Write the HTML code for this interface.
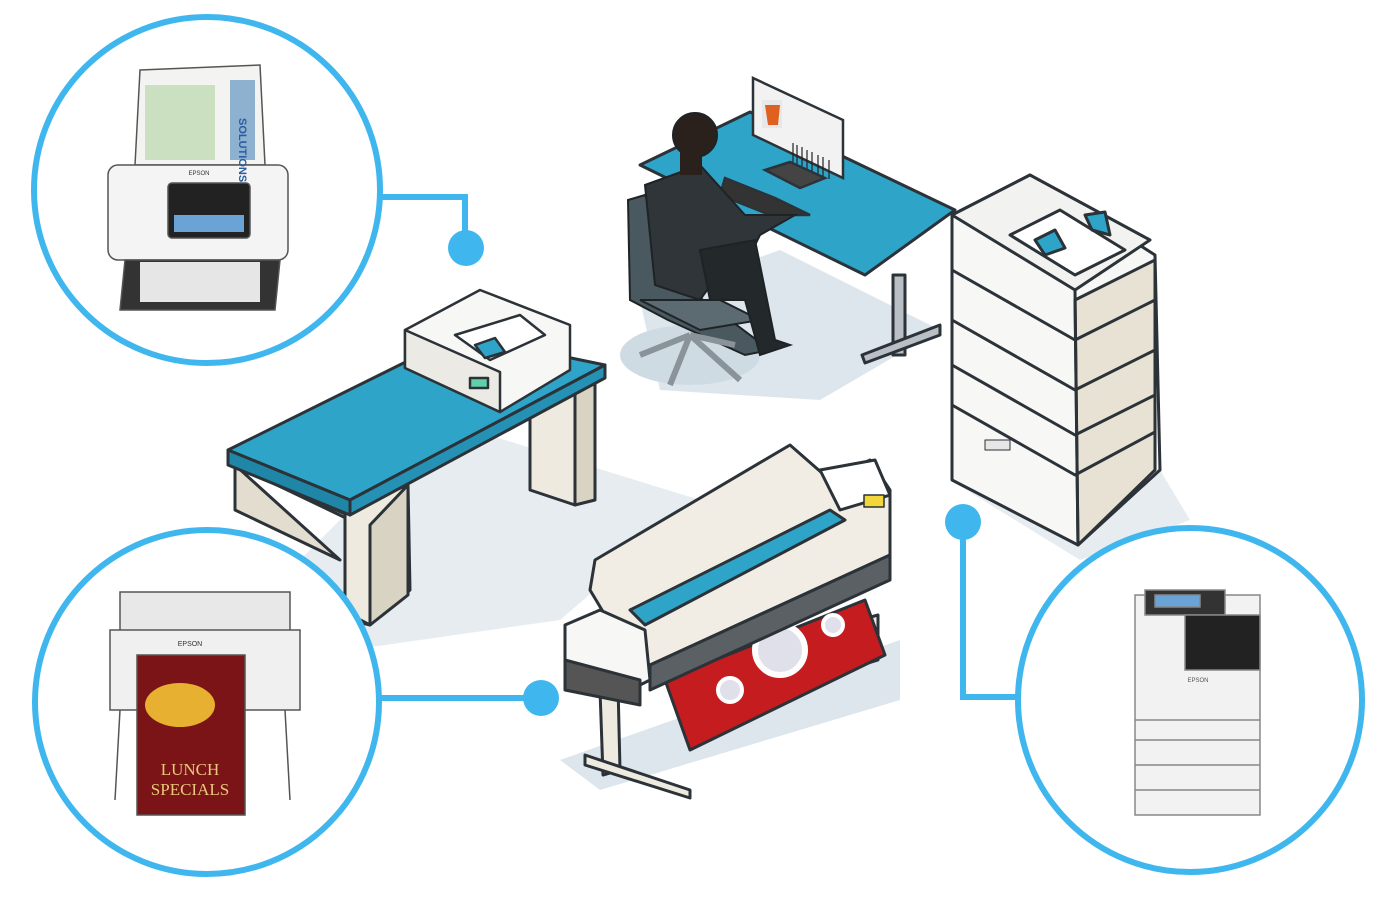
<!DOCTYPE html>
<html><head><meta charset="utf-8"><style>html,body{margin:0;padding:0;background:#fff}svg{display:block}</style></head>
<body>
<svg width="1380" height="920" viewBox="0 0 1380 920" xmlns="http://www.w3.org/2000/svg" font-family="Liberation Sans, sans-serif">
<!-- shadows -->
<polygon points="440,420 700,500 560,620 350,650 300,560" fill="#e6ecf0"/>
<polygon points="640,300 780,250 940,330 820,400 660,390" fill="#dde6ec"/>
<ellipse cx="690" cy="355" rx="70" ry="30" fill="#cfdbe3"/>
<polygon points="560,760 900,640 900,700 600,790" fill="#dde6ec"/>
<polygon points="950,480 1160,470 1190,520 1080,560" fill="#e6ecf0"/>

<!-- left desk -->
<g stroke="#2b3238" stroke-width="3" stroke-linejoin="round">
<polygon points="235,465 350,520 350,620 370,625 370,525 235,465" fill="#efeae0"/>
<polygon points="235,465 235,510 340,560" fill="#e3ddd0"/>
<polygon points="345,510 408,485 410,590 370,625 345,612" fill="#efeae0"/>
<polygon points="408,485 408,595 370,625 370,525" fill="#d9d3c4"/>
<polygon points="575,370 595,372 595,500 575,505" fill="#d9d3c4"/>
<polygon points="530,390 575,372 575,505 530,490" fill="#efeae0"/>
<polygon points="228,450 460,335 605,365 350,500" fill="#2fa4c9"/>
<polygon points="228,450 350,500 350,515 228,465" fill="#1f86a8"/>
<polygon points="350,500 605,365 605,378 350,515" fill="#2592b5"/>
</g>
<!-- scanner on left desk -->
<g stroke="#2b3238" stroke-width="2.5" stroke-linejoin="round">
<polygon points="405,330 480,290 570,325 570,370 500,412 405,368" fill="#f7f7f5"/>
<polygon points="405,330 500,372 500,412 405,368" fill="#eceae4"/>
<polygon points="455,335 520,315 545,335 490,360" fill="#fff"/>
<polygon points="475,345 495,338 505,352 485,358" fill="#2fa4c9"/>
<rect x="470" y="378" width="18" height="10" fill="#5fd0a8"/>
</g>

<!-- right desk -->
<g stroke="#2b3238" stroke-width="3" stroke-linejoin="round">
<rect x="893" y="275" width="12" height="80" fill="#b9bfc4"/>
<polygon points="862,355 940,325 940,335 865,363" fill="#b9bfc4"/>
<polygon points="640,165 750,112 955,210 865,275" fill="#2fa4c9"/>
</g>
<!-- monitor -->
<g stroke="#2b3238" stroke-width="2.5">
<polygon points="753,78 843,120 843,178 753,135" fill="#f2f2f2"/>
<rect x="762" y="100" width="20" height="28" fill="#e8e8e8" stroke="none"/>
<polygon points="765,105 780,105 778,125 768,125" fill="#e06020" stroke="none"/>
<g stroke="#222" stroke-width="1.2"><line x1="793" y1="143" x2="793" y2="162"/><line x1="797" y1="145" x2="797" y2="164"/><line x1="802" y1="147" x2="802" y2="166"/><line x1="807" y1="150" x2="807" y2="169"/><line x1="812" y1="152" x2="812" y2="171"/><line x1="818" y1="155" x2="818" y2="174"/><line x1="823" y1="157" x2="823" y2="176"/><line x1="829" y1="160" x2="829" y2="179"/></g>
<polygon points="765,170 800,188 825,178 790,162" fill="#444"/>
<polygon points="725,178 775,198 810,215 770,215 720,195" fill="#333"/>
</g>
<!-- person & chair -->
<g stroke="#1e2326" stroke-width="2">
<polygon points="628,200 645,195 690,290 770,350 745,355 668,320 630,300" fill="#4a5860"/>
<polygon points="640,300 720,300 760,320 700,330" fill="#5c6a72"/>
<g stroke="#8a9399" stroke-width="6" fill="none"><line x1="690" y1="335" x2="640" y2="355"/><line x1="690" y1="335" x2="670" y2="385"/><line x1="690" y1="335" x2="740" y2="380"/><line x1="690" y1="335" x2="735" y2="345"/></g>
<polygon points="645,185 700,165 745,215 795,215 760,235 740,275 725,265 700,300 655,285" fill="#2f3538"/>
<polygon points="700,250 755,240 775,340 790,345 760,355 745,300 710,300" fill="#23282b"/>
<circle cx="695" cy="135" r="22" fill="#2a211c"/>
<rect x="680" y="150" width="22" height="25" fill="#2a211c" stroke="none"/>
</g>

<!-- tall printer -->
<g stroke="#2b3238" stroke-width="3" stroke-linejoin="round">
<polygon points="952,215 1030,175 1155,255 1160,470 1078,545 952,480" fill="#f7f7f5"/>
<polygon points="1075,300 1155,260 1155,470 1078,545" fill="#e8e2d4"/>
<polygon points="952,215 1030,175 1150,240 1075,290" fill="#f2f2f0"/>
<polygon points="1010,235 1060,210 1125,250 1075,275" fill="#fff"/>
<polygon points="1035,240 1055,230 1065,248 1045,255" fill="#2fa4c9"/>
<polygon points="1085,215 1105,212 1110,235 1092,230" fill="#2fa4c9"/>
<path d="M952,270 L1075,340 L1155,300 M952,320 L1075,390 L1155,350 M952,365 L1075,435 L1155,395 M952,405 L1075,475 L1155,432" fill="none"/>
<line x1="1075" y1="290" x2="1078" y2="545"/>
<rect x="985" y="440" width="25" height="10" fill="#e6e6e6" stroke-width="1"/>
</g>

<!-- large format printer -->
<g stroke="#2b3238" stroke-width="3" stroke-linejoin="round">
<polygon points="600,690 618,685 620,770 603,775" fill="#efeae0"/>
<polygon points="585,755 690,790 690,798 585,765" fill="#efeae0"/>
<polygon points="860,620 878,615 878,660 862,665" fill="#efeae0"/>
<polygon points="665,680 865,600 885,655 690,750" fill="#c41c1f"/>
<circle cx="780" cy="650" r="25" fill="#dfe0ea" stroke="#fff" stroke-width="6"/>
<circle cx="730" cy="690" r="12" fill="#dfe0ea" stroke="#fff" stroke-width="4"/>
<circle cx="833" cy="625" r="10" fill="#dfe0ea" stroke="#fff" stroke-width="4"/>
<polygon points="595,560 790,445 830,480 870,460 890,490 890,555 650,665 620,640 590,590" fill="#f1ede4"/>
<polygon points="630,610 830,510 845,520 645,625" fill="#2fa4c9"/>
<polygon points="820,470 875,460 890,495 840,510" fill="#fff"/>
<rect x="864" y="495" width="20" height="12" fill="#f2d63a" stroke-width="1.5"/>
<polygon points="650,665 890,555 890,580 650,690" fill="#5a6064"/>
<polygon points="565,625 600,610 645,630 650,680 640,685 565,660" fill="#f7f7f5"/>
<polygon points="565,660 640,680 640,705 565,690" fill="#555"/>
</g>

<!-- connectors -->
<g stroke="#3fb7ee" stroke-width="6" fill="none">
<polyline points="380,197 465,197 465,248"/>
<line x1="380" y1="698" x2="540" y2="698"/>
<polyline points="963,522 963,697 1017,697"/>
</g>
<g fill="#3fb7ee">
<circle cx="466" cy="248" r="18"/><circle cx="541" cy="698" r="18"/><circle cx="963" cy="522" r="18"/>
</g>

<!-- circles -->
<g fill="#fff" stroke="#3fb7ee" stroke-width="6">
<circle cx="207" cy="190" r="173"/>
<circle cx="207" cy="702" r="172"/>
<circle cx="1190" cy="700" r="172"/>
</g>

<!-- top-left scanner -->
<g stroke="#555" stroke-width="1.5">
<polygon points="140,70 260,65 265,165 135,165" fill="#f3f4f1"/>
<rect x="230" y="80" width="25" height="80" fill="#2a6db0" stroke="none" opacity="0.5"/>
<rect x="145" y="85" width="70" height="75" fill="#8fc07a" stroke="none" opacity="0.4"/>
<rect x="108" y="165" width="180" height="95" rx="10" fill="#f4f4f4"/>
<rect x="168" y="183" width="82" height="55" rx="4" fill="#222"/>
<rect x="174" y="215" width="70" height="17" fill="#6aa4d6" stroke="none"/>
<polygon points="125,260 280,260 275,310 120,310" fill="#333"/>
<rect x="140" y="262" width="120" height="40" fill="#e6e6e6" stroke="none"/>
<text x="199" y="175" font-size="6" text-anchor="middle" fill="#333" stroke="none">EPSON</text>
<text x="239" y="118" font-size="11" font-weight="bold" fill="#2a5ca0" stroke="none" transform="rotate(90 239 118)">SOLUTIONS</text>
</g>

<!-- bottom-left printer -->
<g stroke="#555" stroke-width="1.5">
<rect x="120" y="592" width="170" height="45" fill="#e8e8e8"/>
<rect x="110" y="630" width="190" height="80" fill="#f0f0f0"/>
<rect x="137" y="655" width="108" height="160" fill="#7b1417"/>
<ellipse cx="180" cy="705" rx="35" ry="22" fill="#e8b030" stroke="none"/>
<text x="190" y="775" font-family="Liberation Serif, serif" font-size="17" text-anchor="middle" fill="#e8c87a" stroke="none">LUNCH</text>
<text x="190" y="795" font-family="Liberation Serif, serif" font-size="17" text-anchor="middle" fill="#e8c87a" stroke="none">SPECIALS</text>
<line x1="120" y1="710" x2="115" y2="800"/><line x1="285" y1="710" x2="290" y2="800"/>
<text x="190" y="646" font-size="7" text-anchor="middle" fill="#333" stroke="none">EPSON</text>
</g>

<!-- right copier -->
<g stroke="#888" stroke-width="1.5">
<rect x="1135" y="595" width="125" height="220" fill="#f2f2f2"/>
<rect x="1145" y="590" width="80" height="25" fill="#333"/>
<rect x="1155" y="595" width="45" height="12" fill="#6aa4d6"/>
<rect x="1185" y="615" width="75" height="55" fill="#222"/>
<line x1="1135" y1="720" x2="1260" y2="720"/><line x1="1135" y1="740" x2="1260" y2="740"/><line x1="1135" y1="765" x2="1260" y2="765"/><line x1="1135" y1="790" x2="1260" y2="790"/>
<text x="1198" y="682" font-size="6" text-anchor="middle" fill="#555" stroke="none">EPSON</text>
</g>
</svg>
</body></html>
